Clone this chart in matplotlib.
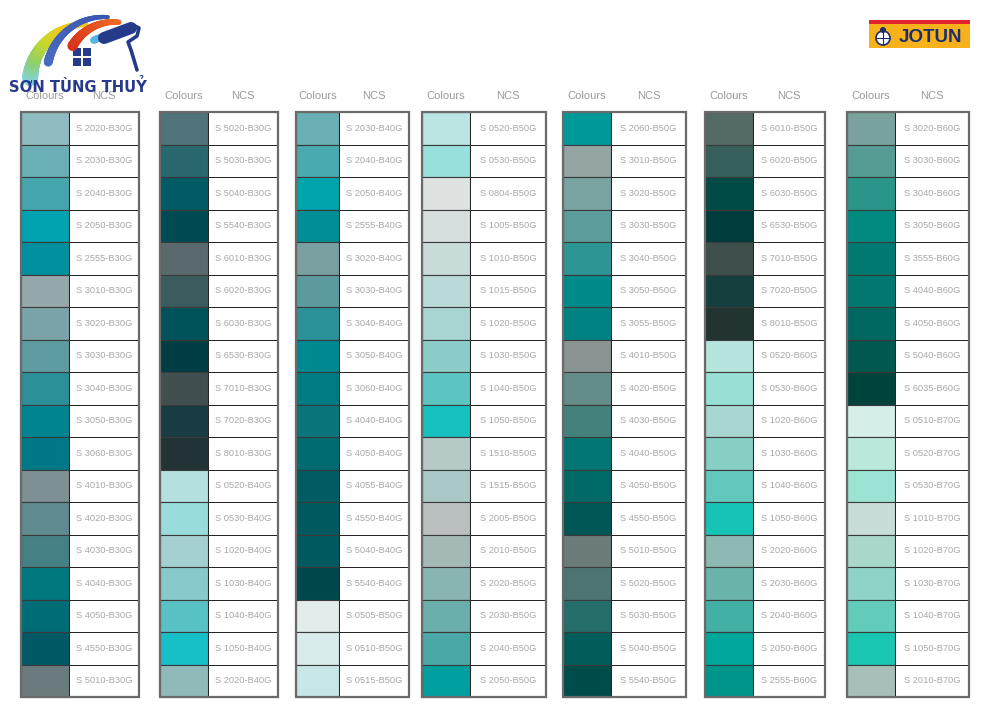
import numpy as np
import matplotlib
matplotlib.use("Agg")
import matplotlib.pyplot as plt
from matplotlib.patches import Rectangle, Circle
from matplotlib.collections import LineCollection
from matplotlib.colors import LinearSegmentedColormap

plt.rcParams["font.family"] = ["Liberation Sans", "DejaVu Sans"]

# NCS codes and swatch colours, one list per column of the chart
codes_1 = ["S 2020-B30G", "S 2030-B30G", "S 2040-B30G", "S 2050-B30G", "S 2555-B30G",
           "S 3010-B30G", "S 3020-B30G", "S 3030-B30G", "S 3040-B30G", "S 3050-B30G",
           "S 3060-B30G", "S 4010-B30G", "S 4020-B30G", "S 4030-B30G", "S 4040-B30G",
           "S 4050-B30G", "S 4550-B30G", "S 5010-B30G"]
colors_1 = ["#8fbcc1", "#6aafb6", "#46a6ae", "#00a2b0", "#00909f",
            "#97a8aa", "#7aa4a8", "#5e9ca2", "#2b8f97", "#008590",
            "#007885", "#7e9092", "#5f8a8e", "#458085", "#007880",
            "#006c76", "#005965", "#6b7b7d"]

codes_2 = ["S 5020-B30G", "S 5030-B30G", "S 5040-B30G", "S 5540-B30G", "S 6010-B30G",
           "S 6020-B30G", "S 6030-B30G", "S 6530-B30G", "S 7010-B30G", "S 7020-B30G",
           "S 8010-B30G", "S 0520-B40G", "S 0530-B40G", "S 1020-B40G", "S 1030-B40G",
           "S 1040-B40G", "S 1050-B40G", "S 2020-B40G"]
colors_2 = ["#4f7378", "#2a6870", "#005b64", "#004a53", "#5a6a6c",
            "#3b5c5e", "#00525a", "#003c43", "#414f51", "#183c41",
            "#223335", "#b4e0e0", "#98dcdb", "#a4d0d2", "#88cacb",
            "#58c1c4", "#16c0c6", "#92b9ba"]

codes_3 = ["S 2030-B40G", "S 2040-B40G", "S 2050-B40G", "S 2555-B40G", "S 3020-B40G",
           "S 3030-B40G", "S 3040-B40G", "S 3050-B40G", "S 3060-B40G", "S 4040-B40G",
           "S 4050-B40G", "S 4055-B40G", "S 4550-B40G", "S 5040-B40G", "S 5540-B40G",
           "S 0505-B50G", "S 0510-B50G", "S 0515-B50G"]
colors_3 = ["#6aafb3", "#48a9ae", "#00a4ab", "#008e96", "#7a9fa1",
            "#5b9b9e", "#2a9196", "#008890", "#007b83", "#0a767b",
            "#006b71", "#005c62", "#005a60", "#005a60", "#00474c",
            "#e2ecea", "#d9ebea", "#c6e7e6"]

codes_4 = ["S 0520-B50G", "S 0530-B50G", "S 0804-B50G", "S 1005-B50G", "S 1010-B50G",
           "S 1015-B50G", "S 1020-B50G", "S 1030-B50G", "S 1040-B50G", "S 1050-B50G",
           "S 1510-B50G", "S 1515-B50G", "S 2005-B50G", "S 2010-B50G", "S 2020-B50G",
           "S 2030-B50G", "S 2040-B50G", "S 2050-B50G"]
colors_4 = ["#bae5e2", "#98e0dc", "#dee3e1", "#d6dfdd", "#c9dcda",
            "#badad7", "#a8d5d2", "#8ccdc9", "#5cc5c1", "#15c0bf",
            "#b6c9c7", "#a9c8c6", "#b9c0bf", "#a4b8b6", "#88b5b1",
            "#6aafab", "#4aa9a7", "#009f9f"]

codes_5 = ["S 2060-B50G", "S 3010-B50G", "S 3020-B50G", "S 3030-B50G", "S 3040-B50G",
           "S 3050-B50G", "S 3055-B50G", "S 4010-B50G", "S 4020-B50G", "S 4030-B50G",
           "S 4040-B50G", "S 4050-B50G", "S 4550-B50G", "S 5010-B50G", "S 5020-B50G",
           "S 5030-B50G", "S 5040-B50G", "S 5540-B50G"]
colors_5 = ["#00999a", "#94a5a4", "#7aa4a2", "#5c9d9b", "#2d9593",
            "#008b8a", "#008283", "#889392", "#648c88", "#44817d",
            "#007674", "#006a67", "#005755", "#6c7c7a", "#4d7471",
            "#256e6a", "#005d5a", "#004c4b"]

codes_6 = ["S 6010-B50G", "S 6020-B50G", "S 6030-B50G", "S 6530-B50G", "S 7010-B50G",
           "S 7020-B50G", "S 8010-B50G", "S 0520-B60G", "S 0530-B60G", "S 1020-B60G",
           "S 1030-B60G", "S 1040-B60G", "S 1050-B60G", "S 2020-B60G", "S 2030-B60G",
           "S 2040-B60G", "S 2050-B60G", "S 2555-B60G"]
colors_6 = ["#546a67", "#365e5a", "#004a46", "#003c3c", "#3e4f4d",
            "#153f3e", "#223432", "#b5e5dd", "#98e0d5", "#a8d6d0",
            "#88cfc6", "#62c8bd", "#16c4b6", "#8eb8b2", "#6ab3ab",
            "#43b0a6", "#00a79a", "#00958a"]

codes_7 = ["S 3020-B60G", "S 3030-B60G", "S 3040-B60G", "S 3050-B60G", "S 3555-B60G",
           "S 4040-B60G", "S 4050-B60G", "S 5040-B60G", "S 6035-B60G", "S 0510-B70G",
           "S 0520-B70G", "S 0530-B70G", "S 1010-B70G", "S 1020-B70G", "S 1030-B70G",
           "S 1040-B70G", "S 1050-B70G", "S 2010-B70G"]
colors_7 = ["#7aa29d", "#569b94", "#2a958a", "#008a80", "#007a70",
            "#007870", "#006860", "#005851", "#00433d", "#d6eee8",
            "#bae8dc", "#9de3d3", "#c8dcd9", "#a8d8cc", "#8ed3c5",
            "#62cbb9", "#18c6b2", "#a8bfb9"]

columns = [(codes_1, colors_1), (codes_2, colors_2), (codes_3, colors_3),
           (codes_4, colors_4), (codes_5, colors_5), (codes_6, colors_6),
           (codes_7, colors_7)]

# layout in pixels (figure is 1000 x 726)
col_left = [21, 160, 296, 422, 563, 705, 847]
swatch_w = [48, 48, 43, 48, 48, 48, 48]
label_w = [70, 70, 70, 76, 75, 72, 74]
table_top = 112
row_h = 32.5
header_y = 96
PX = 72 / 100  # points per pixel


def swoosh(ax, cx, cy, r, t0, t1, cmap, w0, w1):
    t = np.radians(np.linspace(t0, t1, 80))
    pts = np.column_stack([cx + r * np.cos(t), cy - r * np.sin(t)]).reshape(-1, 1, 2)
    segs = np.concatenate([pts[:-1], pts[1:]], axis=1)
    lc = LineCollection(segs, colors=cmap(np.linspace(0, 1, len(segs))),
                        linewidths=np.linspace(w0, w1, len(segs)) * PX,
                        capstyle="round")
    ax.add_collection(lc)


fig = plt.figure(figsize=(10, 7.26), dpi=100)
ax = fig.add_axes([0, 0, 1, 1])
ax.set_xlim(0, 1000)
ax.set_ylim(726, 0)
ax.axis("off")

for (codes, colors), x0, sw, lw in zip(columns, col_left, swatch_w, label_w):
    ax.text(x0 + sw / 2, header_y, "Colours", ha="center", va="center",
            fontsize=8, color="#9a9a9a")
    ax.text(x0 + sw + lw / 2, header_y, "NCS", ha="center", va="center",
            fontsize=8, color="#9a9a9a")
    for i, (code, c) in enumerate(zip(codes, colors)):
        y = table_top + i * row_h
        ax.add_patch(Rectangle((x0, y), sw, row_h, facecolor=c,
                               edgecolor="#3a3a3a", lw=0.8))
        ax.add_patch(Rectangle((x0 + sw, y), lw, row_h, facecolor="white",
                               edgecolor="#222222", lw=0.7))
        ax.text(x0 + sw + lw / 2, y + row_h / 2, code, ha="center", va="center",
                fontsize=6.7, color="#a8a8a8")
    ax.add_patch(Rectangle((x0, table_top), sw + lw, row_h * len(codes),
                           facecolor="none", edgecolor="#6a6a6a", lw=1.6))

# Son Tung Thuy logo (rough sketch)
rainbow = LinearSegmentedColormap.from_list(
    "rb", ["#7fd3ea", "#8fd06a", "#c9d82a", "#f2c81c", "#f2c81c"])
swoosh(ax, 88, 82, 58, 176, 92, rainbow, 16, 5)
swoosh(ax, 104, 74, 57, 168, 86, LinearSegmentedColormap.from_list(
    "bl", ["#4a6cc0", "#3856b0"]), 9, 4)
swoosh(ax, 114, 70, 48, 150, 84, LinearSegmentedColormap.from_list(
    "rd", ["#d8321c", "#ee6a22"]), 10, 5)
swoosh(ax, 112, 78, 42, 116, 92, LinearSegmentedColormap.from_list(
    "lb", ["#66b9e6", "#3fa3de"]), 7, 6)
navy = "#263a8a"
ax.plot([104, 131], [38, 28], color=navy, lw=12 * PX, solid_capstyle="round")
ax.plot([133, 139, 137, 128, 131, 137], [25, 28, 36, 42, 50, 70], color=navy,
        lw=3.6 * PX, solid_capstyle="round", solid_joinstyle="round")
for dx, dy in [(0, 0), (10, 0), (0, 10), (10, 10)]:
    ax.add_patch(Rectangle((73 + dx, 48 + dy), 8, 8, facecolor=navy, lw=0))
ax.text(78, 87, "SƠN TÙNG THUỶ", ha="center", va="center", fontsize=10.6,
        fontweight="bold", color=navy, family=["DejaVu Sans"])

# Jotun logo
ax.add_patch(Rectangle((869, 20), 101, 3.5, facecolor="#e3232c", lw=0))
ax.add_patch(Rectangle((869, 23.5), 101, 24.5, facecolor="#f7b11a", lw=0))
ax.add_patch(Circle((883, 38), 7, facecolor="white", edgecolor="#1c2f6b", lw=1.2))
ax.plot([876, 890], [38, 38], color="#1c2f6b", lw=0.8)
ax.plot([883, 883], [31, 45], color="#1c2f6b", lw=0.8)
ax.add_patch(Circle((883, 30), 3, facecolor="#1c2f6b", lw=0))
ax.text(930, 37, "JOTUN", ha="center", va="center", fontsize=13.5,
        fontweight="bold", color="#1c2f6b")

fig.savefig("out.png", dpi=100)
